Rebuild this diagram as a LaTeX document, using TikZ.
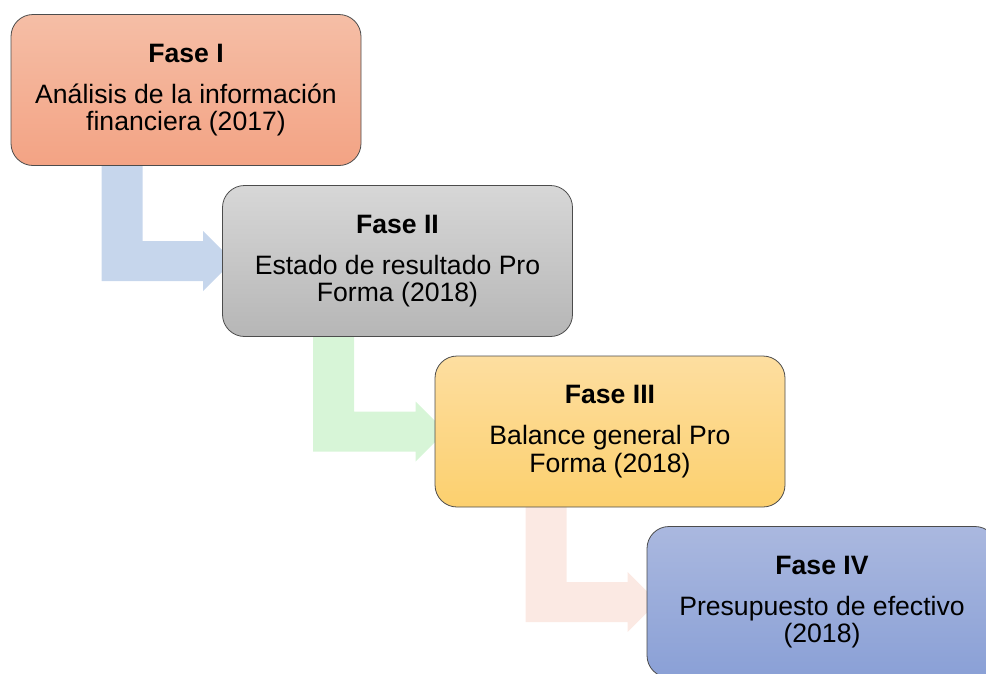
\documentclass[tikz,border=0pt]{standalone}
\usepackage{fontspec}
\setmainfont{Liberation Sans}
\usetikzlibrary{calc,backgrounds}
\definecolor{aone}{HTML}{C6D6EC}
\definecolor{atwo}{HTML}{D7F5D7}
\definecolor{athree}{HTML}{FBE9E3}
\definecolor{bonet}{HTML}{F5BEA6}
\definecolor{boneb}{HTML}{F3A384}
\definecolor{btwot}{HTML}{D7D7D7}
\definecolor{btwob}{HTML}{B6B6B6}
\definecolor{bthreet}{HTML}{FDDEA0}
\definecolor{bthreeb}{HTML}{FCD06E}
\definecolor{bfourt}{HTML}{AAB8DF}
\definecolor{bfourb}{HTML}{8AA0D6}
\tikzset{
  phase/.style={draw=black!70, line width=0.8pt, rounded corners=22pt,
    minimum width=350pt, minimum height=151pt, inner sep=0pt,
    align=center, font=\fontsize{26.6}{27.5}\selectfont},
  bendarrow/.style={draw=none}
}
\newcommand{\bentarrow}[3]{%
  \fill[bendarrow,#3] ($(#1.south west)+(91,-10)$) |- ($(#2.west)+(-19,20)$)
    -- ++(0,10) -- ($(#2.west)+(11,0)$) -- ($(#2.west)+(-19,-30)$)
    -- ++(0,10) -| ($(#1.south west)+(132,-10)$) -- cycle;}
\begin{document}
\begin{tikzpicture}[x=1pt,y=-1pt]
\useasboundingbox (0,0) rectangle (986,673);
\node[phase, top color=bonet, bottom color=boneb] (b1) at (186,90)
  {{\bfseries Fase I}\\[13.5pt]Análisis de la información\\financiera (2017)};
\node[phase, top color=btwot, bottom color=btwob] (b2) at (397.5,261)
  {{\bfseries Fase II}\\[13.5pt]Estado de resultado Pro\\Forma (2018)};
\node[phase, top color=bthreet, bottom color=bthreeb] (b3) at (610,431.5)
  {{\bfseries Fase III}\\[13.5pt]Balance general Pro\\Forma (2018)};
\node[phase, top color=bfourt, bottom color=bfourb] (b4) at (822,602)
  {{\bfseries Fase IV}\\[13.5pt]Presupuesto de efectivo\\(2018)};
\begin{scope}[on background layer]
\bentarrow{b1}{b2}{aone}
\bentarrow{b2}{b3}{atwo}
\bentarrow{b3}{b4}{athree}
\end{scope}
\end{tikzpicture}
\end{document}
